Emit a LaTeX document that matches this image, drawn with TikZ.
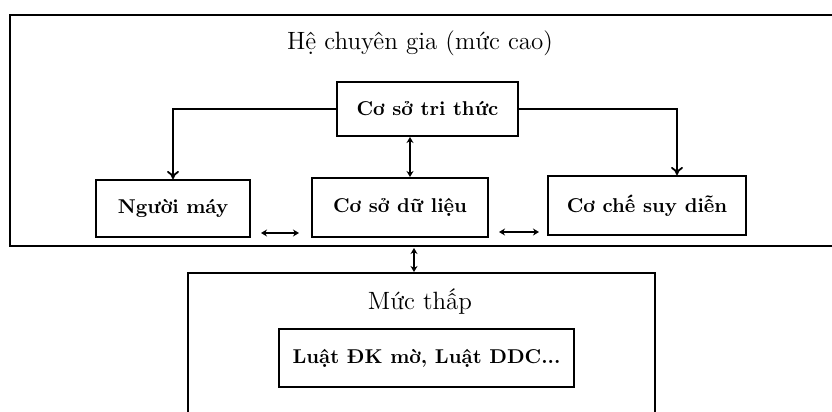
\documentclass[tikz,border=0pt]{standalone}
\usepackage{fontspec}
\usetikzlibrary{arrows.meta}
\begin{document}
\begin{tikzpicture}[x=0.5pt,y=-0.5pt,
  frame/.style={line width=1.4pt},
  block/.style={draw,line width=1pt,rectangle,inner sep=0pt,font=\bfseries\fontsize{10}{12}\selectfont},
  heading/.style={font=\fontsize{12.5}{15}\selectfont},
  link/.style={line width=0.9pt,-{To[length=4pt,width=6pt]}},
  both/.style={line width=0.8pt,{Stealth[length=3pt,width=3.5pt]}-{Stealth[length=3pt,width=3.5pt]}}]
\useasboundingbox (0,0) rectangle (832,412);

% upper level frame (runs off to the right)
\coordinate (ul) at (10,15);
\coordinate (ur) at (832,15);
\coordinate (bl) at (10,246);
\coordinate (br) at (832,246);
\draw[frame] (ur) -- (ul) -- (bl) -- (br);
\node[heading] (title) at (420,43) {Hệ chuyên gia (mức cao)};

% components of the expert system
\node[block,minimum width=90.5pt,minimum height=27pt] (kb) at (427.5,109) {Cơ sở tri thức};
\node[block,minimum width=77pt,minimum height=28.5pt] (robot) at (173,208.5) {Người máy};
\node[block,minimum width=88pt,minimum height=29.5pt] (db) at (400,207.5) {Cơ sở dữ liệu};
\node[block,minimum width=99pt,minimum height=29.5pt] (inf) at (647,205.5) {Cơ chế suy diễn};

\draw[link] (kb.west) -| (robot.north);
\draw[link] (kb.east) -| ([xshift=15pt]inf.north);

\coordinate (vx) at (410,0);
\draw[both] (kb.south -| vx) -- (db.north -| vx);

\coordinate (hy) at (0,233);
\draw[both] ([xshift=5pt]robot.east |- hy) -- ([xshift=-6pt]db.west |- hy);
\coordinate (hy2) at (0,232);
\draw[both] ([xshift=5pt]db.east |- hy2) -- ([xshift=-4pt]inf.west |- hy2);

% lower level frame (runs off the bottom)
\coordinate (ll) at (188,273);
\coordinate (lr) at (655,273);
\coordinate (llb) at (188,412);
\coordinate (lrb) at (655,412);
\draw[frame] (llb) -- (ll) -- (lr) -- (lrb);
\node[heading] (low) at (420,302) {Mức thấp};
\node[block,minimum width=147.5pt,minimum height=29pt] (rules) at (426.5,358) {Luật ĐK mờ, Luật DDC...};

\coordinate (up) at (414,248);
\coordinate (dn) at (414,272);
\draw[both] (up) -- (dn);
\end{tikzpicture}
\end{document}
